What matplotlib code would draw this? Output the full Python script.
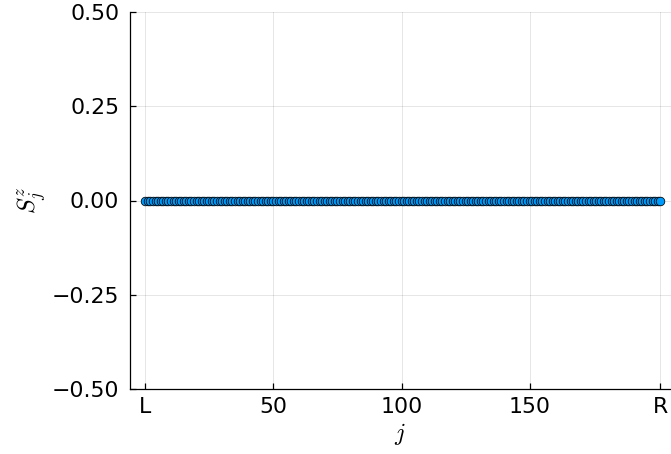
import numpy as np
import matplotlib
matplotlib.use("Agg")
import matplotlib.pyplot as plt

plt.rcParams.update({
    "font.family": "DejaVu Sans",
    "mathtext.fontset": "cm",
})

# site index j (boundary sites L=0, R=201) and magnetisation S^z_j
sites = np.arange(0, 202)
sz = np.zeros(len(sites))

xtick_pos = [0, 50, 100, 150, 201]
xtick_lbl = ["L", "50", "100", "150", "R"]
ytick_pos = [-0.5, -0.25, 0.0, 0.25, 0.5]
ytick_lbl = ["\u22120.50", "\u22120.25", "0.00", "0.25", "0.50"]

fig = plt.figure(figsize=(6.71, 4.54), dpi=100)
ax = fig.add_axes([129.7 / 671, 1 - 389 / 454, 1 - 129.7 / 671, (389 - 12) / 454])

ax.scatter(sites, sz, s=6.2**2, color="#009AFA", edgecolor="black",
           linewidth=0.55, zorder=3, clip_on=False)

ax.set_xlim(-6.1, 205.2)
ax.set_ylim(-0.5, 0.5)
ax.set_xticks(xtick_pos)
ax.set_xticklabels(xtick_lbl)
ax.set_yticks(ytick_pos)
ax.set_yticklabels(ytick_lbl)

ax.grid(True, color="black", alpha=0.1, lw=0.7)
ax.set_axisbelow(True)
for s in ["top", "right"]:
    ax.spines[s].set_visible(False)
for s in ["left", "bottom"]:
    ax.spines[s].set_linewidth(0.9)
ax.tick_params(direction="in", length=4, width=0.9, labelsize=15.8)
ax.tick_params(axis="y", pad=7.5)
ax.tick_params(axis="x", pad=6)

ax.set_xlabel(r"$j$", fontsize=17, labelpad=2.5)
ax.set_ylabel(r"$S^z_j$", fontsize=17.5, labelpad=3)

fig.savefig("out.png", dpi=100)
